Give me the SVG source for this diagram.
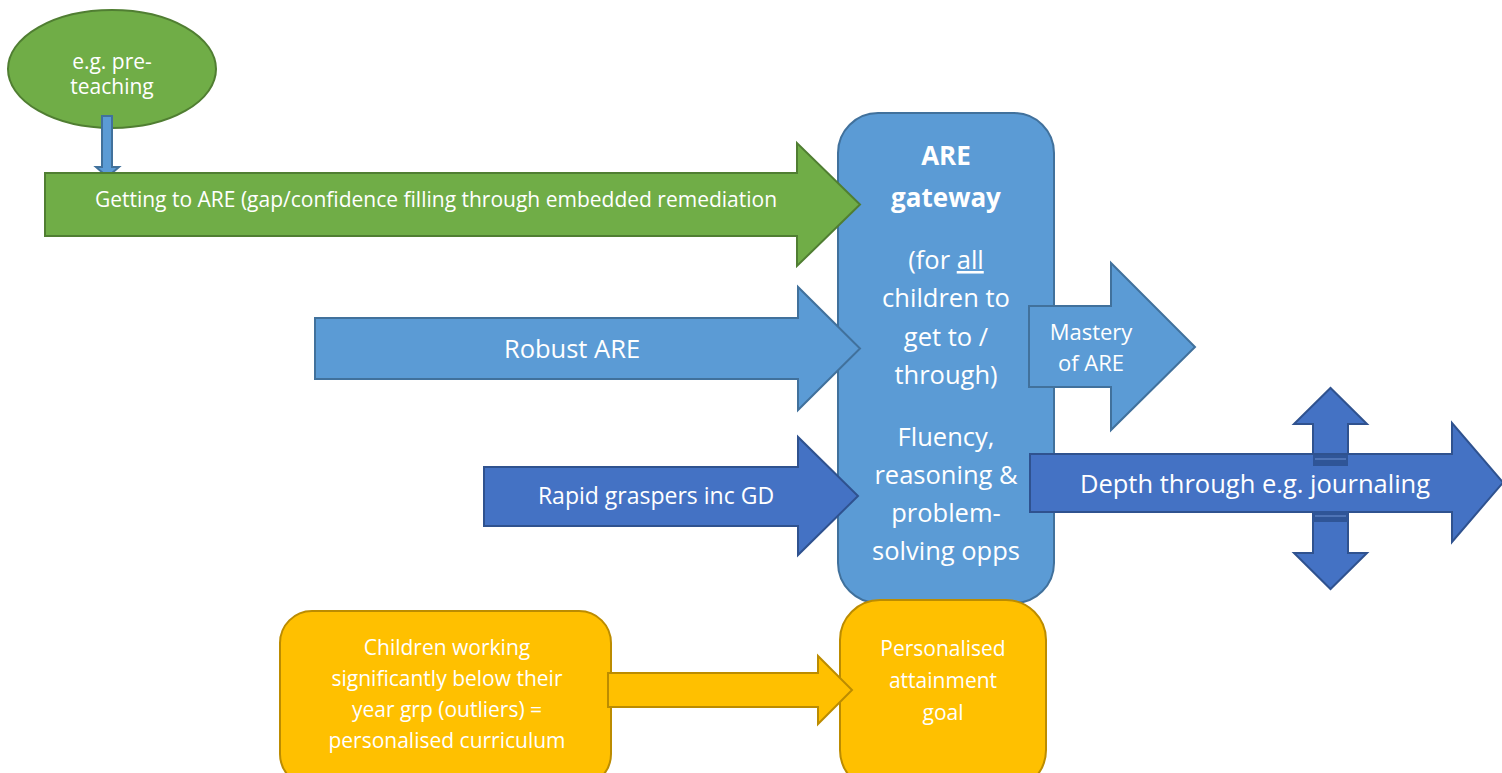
<svg xmlns="http://www.w3.org/2000/svg" width="1502" height="773" viewBox="0 0 1502 773">
<style>
text{font-family:"Open Sans","DejaVu Sans",sans-serif;fill:#ffffff;text-anchor:middle}
.g{fill:#70ad47;stroke:#507e32;stroke-width:2}
.b{fill:#5b9bd5;stroke:#41719c;stroke-width:2}
.d{fill:#4472c4;stroke:#2f528f;stroke-width:2}
.y{fill:#ffc000;stroke:#bc8c00;stroke-width:2}
</style>
<rect width="1502" height="773" fill="#ffffff"/>
<g id="gateway">
<rect class="b" x="838" y="113" width="216" height="490" rx="40"/>
<text x="946" y="165" font-size="26" font-weight="bold">ARE</text>
<text x="946" y="207" font-size="26" font-weight="bold">gateway</text>
<text x="946" y="269" font-size="25.5">(for <tspan text-decoration="underline">all</tspan></text>
<text x="946" y="307" font-size="25.5">children to</text>
<text x="946" y="346" font-size="25.5">get to /</text>
<text x="946" y="384" font-size="25.5">through)</text>
<text x="946" y="446" font-size="25.5">Fluency,</text>
<text x="946" y="484" font-size="25.5">reasoning &amp;</text>
<text x="946" y="522" font-size="25.5">problem-</text>
<text x="946" y="560" font-size="25.5">solving opps</text>
</g>
<g id="preteaching">
<ellipse class="g" cx="112" cy="69" rx="104" ry="59"/>
<text x="112" y="69" font-size="21">e.g. pre-</text>
<text x="112" y="94" font-size="21">teaching</text>
</g>
<g id="personalised-curriculum">
<rect class="y" x="280" y="611" width="331" height="175" rx="32"/>
<text x="447" y="655" font-size="21">Children working</text>
<text x="447" y="686" font-size="21">significantly below their</text>
<text x="447" y="717" font-size="21">year grp (outliers) =</text>
<text x="447" y="748" font-size="21">personalised curriculum</text>
</g>
<g id="attainment-goal">
<rect class="y" x="840" y="600" width="206" height="190" rx="40"/>
<text x="943" y="656" font-size="21">Personalised</text>
<text x="943" y="688" font-size="21">attainment</text>
<text x="943" y="720" font-size="21">goal</text>
</g>
<g id="connectors">
<path class="b" d="M102,116 H112 V167 H119 L107.5,177 L96,167 H102 Z"/>
<path class="g" d="M45,173 H797 V143 L860,204.5 L797,266 V236 H45 Z"/>
<path class="b" d="M315,318 H798 V287 L860,348.5 L798,410 V379 H315 Z"/>
<path class="d" d="M484,467 H798 V437 L858,496 L798,555 V526 H484 Z"/>
<path class="y" d="M608,673 H818 V656 L852,690 L818,724 V707 H608 Z"/>
<path class="b" d="M1029,306 H1111 V263 L1195,347 L1111,430 V387 H1029 Z"/>
<path class="d" d="M1294,424 L1330.5,388 L1367,424 H1348 V466 H1313 V424 Z"/>
<path class="d" d="M1313,510 H1348 V553 H1367 L1330.5,589 L1294,553 H1313 Z"/>
<path class="d" d="M1030,454 H1452 V423 L1503,482.5 L1452,542 V512 H1030 Z"/>
<rect x="1313" y="455" width="35" height="11" fill="#2f5597"/>
<line x1="1315" y1="459" x2="1346" y2="459" stroke="#6f93d4" stroke-width="1"/>
<rect x="1313" y="511" width="35" height="11" fill="#2f5597"/>
<line x1="1315" y1="516" x2="1346" y2="516" stroke="#6f93d4" stroke-width="1"/>
</g>
<g id="labels">
<text x="436" y="207" font-size="21">Getting to ARE (gap/confidence filling through embedded remediation</text>
<text x="572" y="358" font-size="25.5">Robust ARE</text>
<text x="656" y="504" font-size="23">Rapid graspers inc GD</text>
<text x="1091" y="340" font-size="22">Mastery</text>
<text x="1091" y="371" font-size="22">of ARE</text>
<text x="1255" y="493" font-size="25.5">Depth through e.g. journaling</text>
</g>
</svg>
